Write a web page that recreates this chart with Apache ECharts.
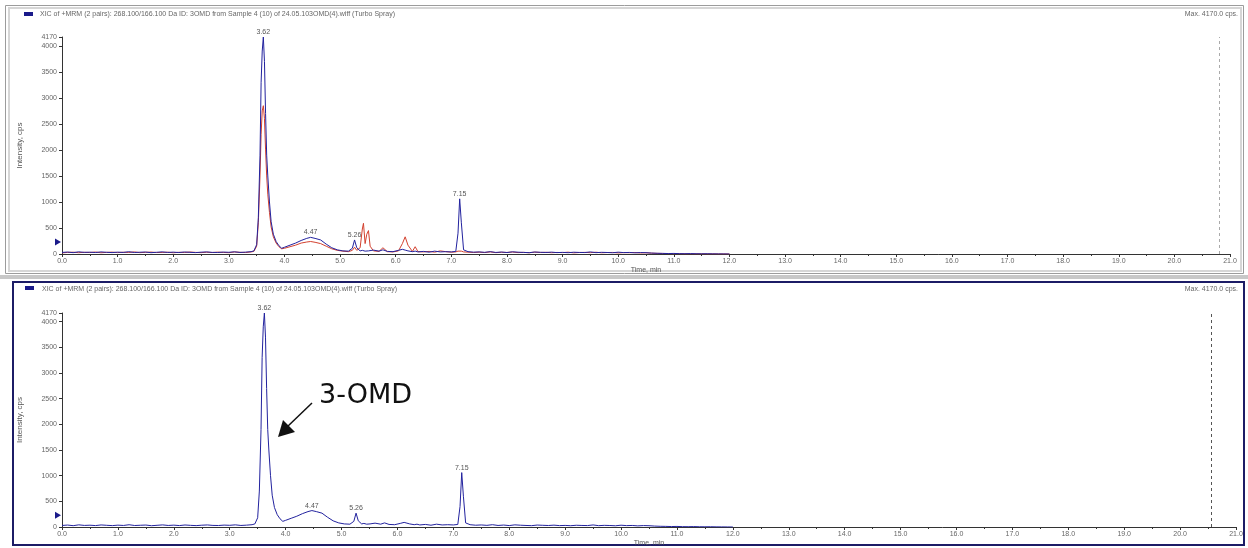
<!DOCTYPE html>
<html>
<head>
<meta charset="utf-8">
<title>XIC of +MRM 268.100/166.100 Da</title>
<script src="https://cdn.jsdelivr.net/npm/echarts@6/dist/echarts.min.js"></script>
<style>
  html, body { margin: 0; padding: 0; background: #ffffff; }
  #chart { width: 1248px; height: 548px; }
</style>
</head>
<body>
<div id="chart"></div>
<script>
// Retention time grid (min), shared by both traces
const timeMin = [
  0.0, 0.1, 0.2, 0.3, 0.4, 0.5, 0.6, 0.7, 0.8, 0.9, 1.0, 1.1, 1.2, 1.3, 1.4, 1.5, 1.6, 1.7,
  1.8, 1.9, 2.0, 2.1, 2.2, 2.3, 2.4, 2.5, 2.6, 2.7, 2.8, 2.9, 3.0, 3.1, 3.2, 3.3, 3.4,
  3.45, 3.5, 3.53, 3.56, 3.58, 3.60, 3.62, 3.64, 3.66, 3.68, 3.70, 3.73, 3.76, 3.8, 3.85, 3.9, 3.95, 4.0,
  4.1, 4.2, 4.3, 4.4, 4.47, 4.55, 4.65, 4.75, 4.85, 4.95, 5.05, 5.15, 5.22, 5.26, 5.30, 5.36,
  5.40, 5.42, 5.45, 5.48, 5.51, 5.54, 5.6, 5.7, 5.77, 5.85, 5.95, 6.05, 6.12, 6.17, 6.22, 6.3,
  6.35, 6.4, 6.5, 6.6, 6.7, 6.8, 6.9, 7.0, 7.08, 7.12, 7.15, 7.18, 7.22, 7.3, 7.4,
  7.5, 7.6, 7.7, 7.8, 7.9, 8.0, 8.1, 8.2, 8.3, 8.4, 8.5, 8.6, 8.7, 8.8, 8.9, 9.0, 9.1, 9.2,
  9.3, 9.4, 9.5, 9.6, 9.7, 9.8, 9.9, 10.0, 10.1, 10.2, 10.3, 10.4, 10.5, 10.6, 10.7, 10.8,
  10.9, 11.0, 11.1, 11.2, 11.3, 11.4, 11.5, 11.6, 11.7, 11.8, 11.9, 12.0
];

// 268.100/166.100 Da transition (cps)
const xicBlue = [
  30, 38, 26, 42, 31, 35, 28, 40, 33, 27, 36, 30, 44, 29, 34, 38, 25, 33,
  41, 30, 36, 28, 39, 32, 27, 35, 40, 31, 29, 37, 33, 42, 30, 36, 45,
  60, 180, 700, 1900, 3300, 3900, 4170, 3700, 2700, 1900, 1500, 1000, 620, 380, 240, 160, 110, 130,
  170, 210, 260, 300, 320, 300, 270, 190, 120, 80, 60, 55, 110, 270, 120, 60,
  70, 65, 55, 70, 60, 50, 75, 55, 80, 50, 45, 70, 90, 75, 60, 45,
  55, 40, 50, 35, 55, 40, 45, 40, 50, 400, 1060, 600, 80, 45, 35,
  40, 32, 45, 30, 38, 28, 42, 35, 30, 26, 38, 33, 29, 36, 27, 31, 25, 34,
  30, 28, 40, 26, 32, 29, 24, 35, 27, 30, 22, 28, 25, 18, 14, 12,
  9, 11, 7, 6, 8, 5, 4, 5, 3, 2, 1, 0
];

// Second transition of the pair (cps)
const xicRed = [
  22, 30, 35, 25, 33, 28, 38, 24, 31, 36, 27, 34, 29, 40, 26, 32, 37, 28,
  30, 35, 24, 33, 29, 38, 31, 26, 34, 28, 36, 30, 25, 39, 33, 28, 40,
  50, 150, 600, 1500, 2300, 2750, 2850, 2600, 2000, 1500, 1150, 800, 520, 330, 210, 140, 100, 110,
  140, 170, 210, 230, 240, 225, 200, 150, 100, 70, 55, 45, 70, 130, 70, 120,
  480, 590, 200, 380, 450, 150, 60, 50, 120, 45, 40, 60, 200, 330, 170, 50,
  140, 45, 40, 50, 35, 60, 45, 35, 40, 55, 70, 55, 40, 35, 30,
  35, 28, 40, 26, 33, 30, 38, 27, 32, 24, 36, 29, 33, 25, 30, 27, 35, 22,
  29, 31, 26, 34, 24, 28, 30, 21, 27, 25, 29, 20, 24, 16, 12, 10,
  8, 6, 7, 4, 5, 3, 4, 2, 3, 1, 1, 0
];

// Annotated peak apexes (min)
const peakTimes = [3.62, 4.47, 5.26, 7.15];

// Axis settings
const timeMax = 21;
const intensityMax = 4170;
const intensityStep = 500;
const baselineLevel = 230;          // baseline marker on the intensity axis
const endMarkTop = 20.8;            // dashed end-of-window marker, upper pane
const endMarkBottom = 20.55;        // dashed end-of-window marker, lower pane

const titleText = 'XIC of +MRM (2 pairs): 268.100/166.100 Da ID: 3OMD from Sample 4 (10) of 24.05.103OMD(4).wiff (Turbo Spray)';
const maxText = 'Max. 4170.0 cps.';

const pair = arr => timeMin.map((t, i) => [t, arr[i]]);
const blueData = pair(xicBlue);
const redData = pair(xicRed);

function apexOf(t) {
  const i = timeMin.indexOf(t);
  return xicBlue[i];
}

const FONT = 'Liberation Sans, Arial, sans-serif';
const BLUE = '#22229e';
const RED = '#d2402e';

function xAxisFor(gridIndex) {
  return {
    type: 'value', gridIndex, min: 0, max: timeMax, interval: 1,
    name: 'Time, min', nameLocation: 'middle', nameGap: 13,
    nameTextStyle: { fontSize: 7, color: '#555', fontFamily: FONT },
    axisLine: { show: true, onZero: false, lineStyle: { color: '#333', width: 1 } },
    axisTick: { show: true, length: 3, lineStyle: { color: '#333' } },
    minorTick: { show: true, splitNumber: 2, length: 2, lineStyle: { color: '#333' } },
    axisLabel: { fontSize: 7, color: '#666', fontFamily: FONT, margin: 4,
                 formatter: v => v.toFixed(1) },
    splitLine: { show: false }
  };
}

function yAxisFor(gridIndex) {
  return {
    type: 'value', gridIndex, min: 0, max: intensityMax, interval: intensityStep,
    name: 'Intensity, cps', nameLocation: 'middle', nameGap: 38,
    nameTextStyle: { fontSize: 8, color: '#555', fontFamily: FONT },
    axisLine: { show: true, lineStyle: { color: '#333', width: 1 } },
    axisTick: { show: true, length: 3, lineStyle: { color: '#333' } },
    axisLabel: { fontSize: 7, color: '#666', fontFamily: FONT, margin: 5,
                 showMaxLabel: true, showMinLabel: true,
                 formatter: v => String(Math.round(v)) },
    splitLine: { show: false }
  };
}

function peakLabels() {
  return {
    silent: true,
    symbol: 'circle', symbolSize: 1,
    itemStyle: { color: 'rgba(0,0,0,0)' },
    label: { show: true, position: 'top', distance: 1, fontSize: 7, color: '#555',
             fontFamily: FONT, formatter: p => p.name },
    data: peakTimes.map(t => ({ name: t.toFixed(2), coord: [t, apexOf(t)] }))
  };
}

function baselineMark() {
  return {
    silent: true,
    symbol: 'triangle', symbolRotate: -90, symbolSize: [7, 6], symbolOffset: [-4, 0],
    itemStyle: { color: '#1a1a8a' },
    label: { show: false },
    data: [{ coord: [0, baselineLevel] }]
  };
}

function endMark(x, color) {
  return {
    silent: true, symbol: 'none', animation: false,
    label: { show: false },
    lineStyle: { type: [3, 3], color, width: 1 },
    data: [{ xAxis: x }]
  };
}

const option = {
  animation: false,
  backgroundColor: '#ffffff',
  grid: [
    { left: 62, right: 18, top: 37, height: 217 },
    { left: 62, right: 12, top: 313, height: 217 }
  ],
  xAxis: [xAxisFor(0), xAxisFor(1)],
  yAxis: [yAxisFor(0), yAxisFor(1)],
  series: [
    {
      type: 'line', xAxisIndex: 0, yAxisIndex: 0, data: redData,
      showSymbol: false, smooth: false, z: 3,
      lineStyle: { color: RED, width: 1 }
    },
    {
      type: 'line', xAxisIndex: 0, yAxisIndex: 0, data: blueData,
      showSymbol: false, smooth: false, z: 4,
      lineStyle: { color: BLUE, width: 1 },
      markPoint: peakLabels(),
      markLine: endMark(endMarkTop, '#aaaaaa')
    },
    {
      type: 'line', xAxisIndex: 0, yAxisIndex: 0, data: [],
      markPoint: baselineMark()
    },
    {
      type: 'line', xAxisIndex: 1, yAxisIndex: 1, data: blueData,
      showSymbol: false, smooth: false, z: 4,
      lineStyle: { color: BLUE, width: 1 },
      markPoint: peakLabels(),
      markLine: endMark(endMarkBottom, '#555555')
    },
    {
      type: 'line', xAxisIndex: 1, yAxisIndex: 1, data: [],
      markPoint: baselineMark()
    }
  ],
  graphic: [
    // upper pane frame
    { type: 'rect', shape: { x: 5.5, y: 5.5, width: 1238, height: 268 },
      style: { fill: 'none', stroke: '#9c9c9c', lineWidth: 1 }, silent: true },
    { type: 'rect', shape: { x: 9, y: 8, width: 1232, height: 263 },
      style: { fill: 'none', stroke: '#d6d6d6', lineWidth: 2 }, silent: true },
    { type: 'rect', shape: { x: 0, y: 275, width: 1248, height: 4 },
      style: { fill: '#c8c8c8' }, silent: true },
    // lower pane frame (active pane)
    { type: 'rect', shape: { x: 13, y: 282, width: 1231, height: 263 },
      style: { fill: 'none', stroke: '#1c1c66', lineWidth: 2 }, silent: true },
    // pane headers
    { type: 'rect', shape: { x: 24, y: 12, width: 9, height: 4 }, style: { fill: '#1a1a8a' }, silent: true },
    { type: 'text', x: 40, y: 14, style: { text: titleText, fontSize: 7, fill: '#666',
      fontFamily: FONT, verticalAlign: 'middle' }, silent: true },
    { type: 'text', x: 1238, y: 14, style: { text: maxText, fontSize: 7, fill: '#666',
      fontFamily: FONT, align: 'right', verticalAlign: 'middle' }, silent: true },
    { type: 'rect', shape: { x: 25, y: 286, width: 9, height: 4 }, style: { fill: '#1a1a8a' }, silent: true },
    { type: 'text', x: 42, y: 289, style: { text: titleText, fontSize: 7, fill: '#666',
      fontFamily: FONT, verticalAlign: 'middle' }, silent: true },
    { type: 'text', x: 1238, y: 289, style: { text: maxText, fontSize: 7, fill: '#666',
      fontFamily: FONT, align: 'right', verticalAlign: 'middle' }, silent: true },
    // compound callout
    { type: 'text', x: 319, y: 396, style: { text: '3-OMD', fontSize: 27, fill: '#111',
      fontFamily: 'DejaVu Sans, sans-serif', verticalAlign: 'middle' }, silent: true },
    { type: 'line', shape: { x1: 312, y1: 403, x2: 287, y2: 427 },
      style: { stroke: '#111', lineWidth: 1.5 }, silent: true },
    { type: 'polygon', shape: { points: [[278, 437], [283, 420], [295, 432]] },
      style: { fill: '#111' }, silent: true }
  ]
};

const chart = echarts.init(document.getElementById('chart'), null, { renderer: 'canvas' });
chart.setOption(option);
</script>
</body>
</html>
